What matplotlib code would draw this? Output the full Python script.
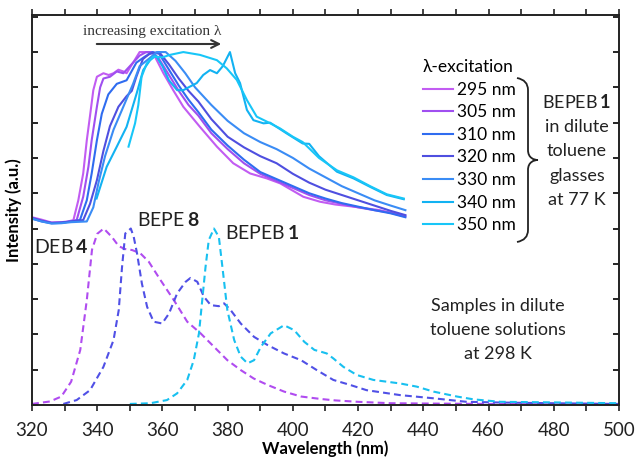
import numpy as np
import matplotlib
matplotlib.use("Agg")
import matplotlib.pyplot as plt
from matplotlib.path import Path
from matplotlib.patches import PathPatch

plt.rcParams['font.family'] = ['Lato', 'DejaVu Sans']
plt.rcParams['mathtext.fontset'] = 'custom'
plt.rcParams['mathtext.rm'] = 'Lato'
plt.rcParams['mathtext.bf'] = 'Lato:bold'

# --- glasses at 77 K (solid), one curve per excitation wavelength
exc_labels = ['295 nm', '305 nm', '310 nm', '320 nm', '330 nm', '340 nm', '350 nm']
exc_colors = ['#c25cf2', '#a04ff0', '#2f6cf0', '#4f4fe0', '#3a8cf5', '#12b2f2', '#18c6f8']

wl_295 = [320, 323, 326, 329, 331, 332.7, 334.2, 335.7, 336.8, 337.8, 338.8, 339.9, 341.9, 343.5, 345, 346.5,
          348, 349, 351, 353, 355, 357.2, 360.3, 363.3, 366.4, 371.5, 376.7, 381.7, 386.9, 392, 396.1, 403.2,
          408.3, 413, 418.6, 426.7, 433.9]
int_295 = [5.32, 5.25, 5.17, 5.18, 5.2, 5.24, 5.8, 6.56, 7.5, 8.2, 8.92, 9.3, 9.4, 9.35, 9.4, 9.5,
           9.45, 9.4, 9.7, 10.0, 10.0, 9.96, 9.4, 8.92, 8.45, 7.88, 7.32, 6.85, 6.56, 6.42, 6.28, 5.9,
           5.76, 5.68, 5.62, 5.52, 5.35]

wl_305 = [320, 323, 326, 329, 332, 333.7, 335.7, 337.3, 338.3, 339.9, 340.9, 341.9, 343.9, 346, 348, 350,
          353, 355, 357, 359, 362, 365, 368, 371, 375, 380, 385, 390, 395, 400, 405, 410, 415, 420, 425,
          430, 434.5]
int_305 = [5.3, 5.22, 5.16, 5.17, 5.2, 5.24, 5.9, 6.75, 7.5, 8.45, 9.0, 9.25, 9.3, 9.45, 9.4, 9.6,
           9.9, 10.0, 10.0, 9.8, 9.35, 8.9, 8.5, 8.2, 7.7, 7.25, 6.85, 6.55, 6.35, 6.15, 5.95, 5.8, 5.7,
           5.6, 5.52, 5.45, 5.35]

wl_310 = [320, 323, 326, 329, 332, 334.7, 336.8, 338.3, 339.9, 341.4, 343.4, 346, 349, 352, 354.6, 357,
          359, 362, 365, 368, 371, 375, 380, 385, 390, 395, 400, 405, 410, 415, 420, 425, 430, 434.5]
int_310 = [5.28, 5.2, 5.15, 5.16, 5.2, 5.24, 5.8, 6.56, 7.5, 8.25, 8.8, 9.1, 9.2, 9.7, 9.87, 10.0,
           9.95, 9.5, 9.05, 8.65, 8.3, 7.8, 7.35, 6.95, 6.6, 6.4, 6.2, 6.0, 5.85, 5.72, 5.62, 5.52, 5.43, 5.32]

wl_320 = [320, 323, 326, 329, 332, 335.7, 337.8, 339.9, 341.9, 343.9, 346.5, 349, 350.6, 352, 354, 356,
          359, 362, 365, 368, 371, 375, 380, 385, 390, 395, 400, 405, 410, 415, 420, 425, 430, 434.5]
int_320 = [5.3, 5.22, 5.16, 5.17, 5.2, 5.24, 5.7, 6.37, 7.2, 7.9, 8.45, 8.75, 8.9, 9.3, 9.8, 9.95,
           10.0, 9.65, 9.25, 8.9, 8.6, 8.1, 7.6, 7.3, 7.05, 6.85, 6.55, 6.3, 6.1, 5.95, 5.8, 5.65, 5.5, 5.38]

wl_330 = [320, 323, 326, 329, 332, 336.8, 338.8, 340.4, 342.4, 345, 348, 351, 353, 355.7, 358.3, 361,
          364, 367, 370, 375, 380, 385, 390, 395, 400, 405, 410, 415, 420, 425, 430, 434.5]
int_330 = [5.28, 5.2, 5.14, 5.15, 5.18, 5.2, 5.6, 6.3, 7.05, 7.8, 8.45, 9.1, 9.6, 9.8, 10.0, 10.0,
           9.75, 9.4, 9.0, 8.5, 8.05, 7.7, 7.45, 7.25, 7.0, 6.7, 6.45, 6.2, 6.0, 5.8, 5.65, 5.52]

wl_340 = [339.8, 341, 342.9, 346, 349, 352.1, 354.1, 356.2, 358, 360, 362, 364.5, 366.4, 368, 370.5, 372.5,
          374.6, 376.7, 378.5, 380.7, 382.3, 383.8, 385.9, 387.9, 391, 393, 398, 403, 405, 408, 413.5,
          418.6, 423.7, 428.8, 434]
int_340 = [5.85, 6.2, 6.75, 7.32, 7.88, 8.83, 9.49, 9.77, 9.9, 9.6, 9.2, 8.92, 8.92, 9.0, 9.12, 9.35,
           9.49, 9.4, 9.6, 10.0, 9.4, 9.12, 8.36, 8.07, 7.98, 8.0, 7.7, 7.41, 7.4, 7.05, 6.61,
           6.42, 6.18, 5.95, 5.83]

wl_350 = [349.6, 351.6, 352.6, 353.6, 355.2, 357.2, 360, 362.3, 366.4, 371.5, 376.7, 379.7, 382.8, 385.9,
          388.9, 392, 396, 400, 403, 408, 413.5, 418.6, 423.7, 428.8, 434]
int_350 = [7.32, 7.98, 8.5, 9.3, 9.68, 9.87, 9.85, 9.92, 10.0, 9.92, 9.77, 9.54, 9.21, 8.64,
           8.17, 8.03, 7.84, 7.6, 7.45, 7.0, 6.65, 6.45, 6.2, 5.97, 5.85]

glass_wl = [wl_295, wl_305, wl_310, wl_320, wl_330, wl_340, wl_350]
glass_int = [int_295, int_305, int_310, int_320, int_330, int_340, int_350]

# --- solutions at 298 K (dashed)
wl_deb4 = [320, 325.5, 329, 332, 334.8, 336.8, 338.4, 340, 342, 344.5, 346.6, 348.5, 350.7, 353.2, 355.8,
           359.4, 363.5, 367.6, 371.7, 375.8, 379.9, 384, 388, 392.2, 397.3, 402.5, 408.6, 413, 420, 430,
           443, 460, 480, 500]
int_deb4 = [0.03, 0.1, 0.24, 0.66, 1.56, 2.97, 4.4, 4.85, 5.0, 4.76, 4.5, 4.42, 4.39, 4.3, 4.06,
            3.54, 2.97, 2.36, 2.03, 1.65, 1.27, 0.99, 0.75, 0.57, 0.38, 0.24, 0.17, 0.13, 0.09, 0.05,
            0.04, 0.03, 0.02, 0.02]

wl_bepe8 = [329.6, 333.7, 337.8, 341.9, 345, 346.6, 347.6, 348.6, 350.3, 351.2, 352.2, 353.7, 355.3,
            357.3, 359.9, 362, 364.5, 367.1, 368.6, 370.7, 372.7, 374.8, 377.3, 378.9, 380.9, 384, 388.1,
            392.2, 397.3, 402.5, 407.3, 412.4, 417.5, 422.6, 432.9, 443.1, 453.3, 463.6, 480, 500]
int_bepe8 = [0.03, 0.14, 0.42, 1.08, 1.84, 2.69, 3.9, 4.86, 5.0, 4.76, 4.3, 3.44, 2.78,
             2.36, 2.31, 2.59, 3.16, 3.49, 3.6, 3.49, 3.07, 2.83, 2.8, 2.88, 2.69, 2.31, 1.93,
             1.7, 1.46, 1.27, 0.99, 0.71, 0.57, 0.42, 0.28, 0.19, 0.09, 0.07, 0.05, 0.03]

wl_bepeb1 = [350, 356.3, 361.4, 364.5, 367.6, 369.6, 371.2, 372.2, 373.2, 374.2, 375.8, 377.3, 378.4,
             379.9, 382, 384, 386.1, 388.1, 390.2, 393.2, 397.3, 400.4, 403.5, 406.6, 408.6, 410.4, 412.4,
             415.5, 419.6, 424.7, 432.9, 438, 443.1, 450.3, 455.4, 463.6, 473.9, 500]
int_bepeb1 = [0.03, 0.05, 0.14, 0.33, 0.71, 1.27, 2.03, 2.97, 3.9, 4.67, 5.0, 4.76, 3.9,
              2.69, 1.84, 1.37, 1.18, 1.27, 1.65, 2.03, 2.26, 2.12, 1.79, 1.56, 1.51, 1.46, 1.32,
              1.08, 0.85, 0.71, 0.61, 0.52, 0.38, 0.24, 0.16, 0.09, 0.08, 0.05]

sol_wl = [wl_deb4, wl_bepe8, wl_bepeb1]
sol_int = [int_deb4, int_bepe8, int_bepeb1]
sol_colors = ['#b04cf0', '#5050e6', '#18c0f0']

W, H = 635, 461
fig = plt.figure(figsize=(W / 100, H / 100), dpi=100)
ax = fig.add_axes([32 / W, 1 - 405 / H, (619 - 32) / W, (405 - 15) / H])


def px(x, y):
    # pixel position -> figure fraction
    return x / W, 1 - y / H


lines = []
for w, v, c, lab in zip(glass_wl, glass_int, exc_colors, exc_labels):
    ln, = ax.plot(w, v, color=c, lw=1.5, label=lab)
    lines.append(ln)

for w, v, c in zip(sol_wl, sol_int, sol_colors):
    ax.plot(w, v, color=c, lw=1.5, ls=(0, (3.3, 2)))

ax.set_xlim(320, 500)
ax.set_ylim(0, 11.05)
ax.set_xticks(np.arange(320, 501, 20))
ax.set_xticks(np.arange(330, 500, 20), minor=True)
ax.set_yticks(np.arange(0, 11.1, 1))
ax.set_yticklabels([])
ax.tick_params(axis='x', which='both', direction='out', length=4, width=1.2, top=True,
               labelsize=13.5, pad=8, colors='#222222')
ax.tick_params(axis='y', which='both', direction='in', length=4, width=1.2, right=True)
for s in ax.spines.values():
    s.set_linewidth(1.4)
    s.set_color('#222222')

ax.set_xlabel('Wavelength (nm)', fontsize=12, fontweight='bold', labelpad=1)
ax.set_ylabel('Intensity (a.u.)', fontsize=12, fontweight='bold', labelpad=4)

leg = ax.legend(handles=lines, title='λ-excitation', loc='upper left',
                bbox_to_anchor=px(423, 59), bbox_transform=fig.transFigure,
                frameon=False, fontsize=12.5, title_fontsize=12.5, handlelength=1.75,
                handletextpad=0.2, labelspacing=0.38, borderpad=0, borderaxespad=0,
                alignment='left')

# curly brace next to the legend
bx0, bx1, bx2 = 517, 528, 538
by0, bym, by1 = 78, 160, 242
verts = [px(bx0, by0), px(bx1, by0 + 2), px(bx1, by0 + 12),
         px(bx1, bym - 10),
         px(bx1, bym - 2), px(bx2 - 4, bym), px(bx2, bym),
         px(bx2 - 4, bym), px(bx1, bym + 2), px(bx1, bym + 10),
         px(bx1, by1 - 12),
         px(bx1, by1 - 2), px(bx0, by1)]
codes = [Path.MOVETO, Path.CURVE3, Path.CURVE3, Path.LINETO,
         Path.CURVE4, Path.CURVE4, Path.CURVE4,
         Path.CURVE4, Path.CURVE4, Path.CURVE4, Path.LINETO,
         Path.CURVE3, Path.CURVE3]
fig.patches.append(PathPatch(Path(verts, codes), transform=fig.transFigure,
                             fill=False, lw=1.3, color='#222222'))

side = [r'BEPEB$\,\mathbf{1}$', 'in dilute', 'toluene', 'glasses', 'at 77 K']
for i, t in enumerate(side):
    fig.text(*px(577, 102 + 24.6 * i), t, ha='center', va='center', fontsize=13, color='#222222')

sol_note = ['Samples in dilute', 'toluene solutions', 'at 298 K']
for i, t in enumerate(sol_note):
    fig.text(*px(498, 306 + 24 * i), t, ha='center', va='center', fontsize=13, color='#222222')

fig.text(*px(61, 247), r'DEB$\,\mathbf{4}$', ha='center', va='center', fontsize=14, color='#222222')
fig.text(*px(168, 220), r'BEPE$\,\mathbf{8}$', ha='center', va='center', fontsize=14, color='#222222')
fig.text(*px(262, 233), r'BEPEB$\,\mathbf{1}$', ha='center', va='center', fontsize=14, color='#222222')

fig.text(*px(152, 32), 'increasing excitation λ', ha='center', va='center', fontsize=11,
         family=['Liberation Serif', 'DejaVu Serif'], color='#333333')
ax.annotate('', xy=px(224, 44), xytext=px(94, 44), xycoords='figure fraction',
            textcoords='figure fraction',
            arrowprops=dict(arrowstyle='->', lw=1.5, color='#333333', mutation_scale=14))

fig.savefig('out.png', dpi=100)
